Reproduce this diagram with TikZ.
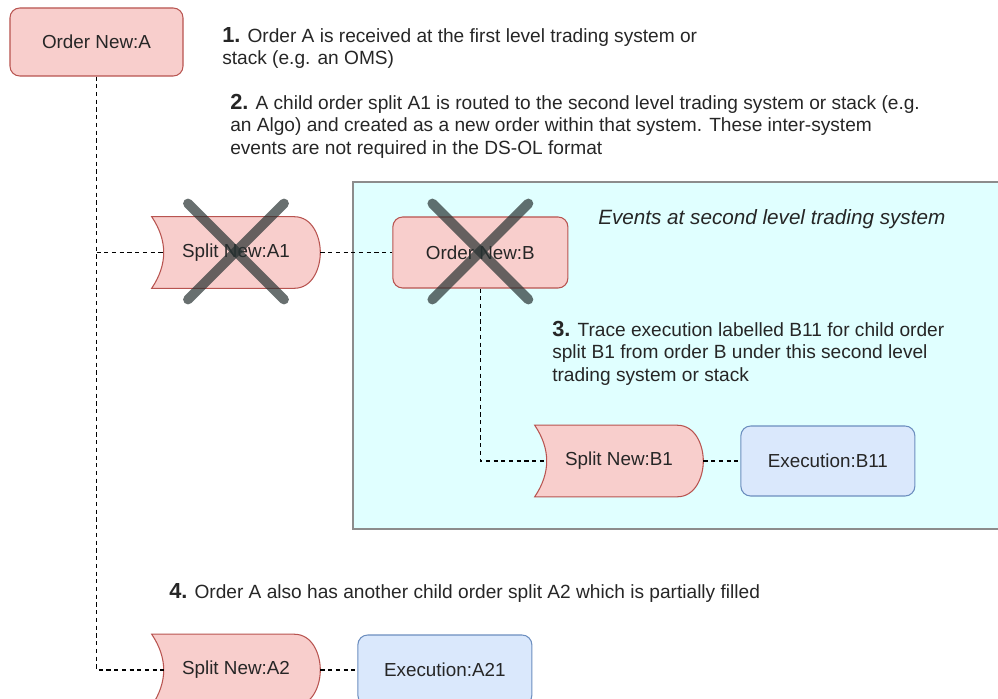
\documentclass[tikz,border=0pt]{standalone}
\usepackage{fontspec}
\setmainfont{Liberation Sans}
\usepackage{tikz}
\usetikzlibrary{
	positioning
}
\definecolor{OrderRed}{HTML}{F8CECC}
\definecolor{OrderEdge}{HTML}{B85450}
\definecolor{ExecBlue}{HTML}{DAE8FC}
\definecolor{ExecEdge}{HTML}{6C8EBF}
\definecolor{StackCyan}{HTML}{E0FFFF}
\definecolor{StackEdge}{HTML}{8C8C8C}
\definecolor{CrossGray}{RGB}{40,50,50}
\pgfdeclarelayer{background}
\pgfsetlayers{background,main}
\newcommand{\notenum}[1]{{\fontsize{15.5}{16}\selectfont\bfseries #1}}

\begin{document}
\begin{tikzpicture}[
				x=0.025cm,
				y=-0.025cm,
				node distance=0.925cm,
				every node/.style={
					font=\fontsize{13.4}{16}\selectfont,
					text=black!85
				},
				orderbox/.style={
					draw=OrderEdge,
					fill=OrderRed,
					line width=0.75pt,
					rounded corners=7pt,
					minimum width=4.325cm,
					minimum height=1.7cm
				},
				execbox/.style={
					draw=ExecEdge,
					fill=ExecBlue,
					line width=0.75pt,
					rounded corners=7pt,
					minimum width=4.35cm,
					minimum height=1.75cm
				},
				splitbox/.style={
					minimum width=4.2cm,
					minimum height=1.775cm
				},
				splitline/.style={
					draw=OrderEdge,
					fill=OrderRed,
					line width=0.75pt
				},
				note/.style={
					align=left,
					inner sep=0pt,
					font=\fontsize{13.6}{16}\selectfont
				},
				link/.style={
					line width=0.75pt,
					dash pattern=on 3pt off 2.5pt
				},
				cross/.style={
					draw=CrossGray,
					draw opacity=0.7,
					line width=7pt,
					line cap=round
				}
				]
				
				\useasboundingbox (0,0) rectangle (998,698);
				
				% second level trading system
				\begin{pgfonlayer}{background}
					\draw[
					StackEdge,
					fill=StackCyan,
					line width=1pt
					] (353,182) rectangle (1010,529);
				\end{pgfonlayer}
				
				\node[orderbox] (OA) at (96.5,42) {Order New:A};
				
				\node[splitbox] (A1) at (236,252.5) {Split New:A1};
				
				\node[
				orderbox,
				minimum width=4.375cm,
				minimum height=1.775cm,
				right=1.8cm of A1
				] (B) {Order New:B};
				
				\node[splitbox] (B1) at (619,461) {Split New:B1};
				
				\node[
				execbox,
				right=of B1
				] (B11) {Execution:B11};
				
				\node[splitbox] (A2) at (236,670) {Split New:A2};
				
				\node[
				execbox,
				right=of A2
				] (A21) {Execution:A21};
				
				% split outlines
				\begin{pgfonlayer}{background}
					\foreach \s in {A1,B1,A2}{
						\draw[splitline] (\s.north west)
						-- ([xshift=-0.65cm]\s.north east)
						.. controls ([xshift=-0.2cm]\s.north east) and ([yshift=0.4cm]\s.east) .. (\s.east)
						.. controls ([yshift=-0.4cm]\s.east) and ([xshift=-0.2cm]\s.south east) .. ([xshift=-0.65cm]\s.south east)
						-- (\s.south west)
						.. controls ([xshift=0.4cm,yshift=-0.3cm]\s.west) and ([xshift=0.4cm,yshift=0.3cm]\s.west) .. (\s.north west)
						-- cycle;
					}
				\end{pgfonlayer}
				
				% notes (anchored at the baseline of the last line)
				\node[
				note,
				anchor=base west
				] (N1) at (222,64.5) {\notenum{1.} Order A is received at the first level trading system or\\stack (e.g. an OMS)};
				
				\node[
				note,
				anchor=base west
				] (N2) at (230,154) {\notenum{2.} A child order split A1 is routed to the second level trading system or stack (e.g.\\an Algo) and created as a new order within that system. These inter-system\\events are not required in the DS-OL format};
				
				\node[
				note,
				anchor=base west
				] (N3) at (552,381) {\notenum{3.} Trace execution labelled B11 for child order\\split B1 from order B under this second level\\trading system or stack};
				
				\node[
				note,
				anchor=base west
				] (N4) at (169,598) {\notenum{4.} Order A also has another child order split A2 which is partially filled};
				
				\node[
				note,
				anchor=base west,
				font=\fontsize{14.7}{17}\selectfont\itshape
				] (T) at (598,224) {Events at second level trading system};
				
				% connectors
				\coordinate (tA1) at (OA.south |- A1.west);
				
				\draw[link] (OA) |- ([xshift=0.3cm]A2.west);
				
				\draw[link] (tA1) -- ([xshift=0.3cm]A1.west);
				
				\draw[link] (A1) -- (B);
				
				\draw[link] (B) |- ([xshift=0.3cm]B1.west);
				
				\draw[link] (B1) -- (B11);
				
				\draw[link] (A2) -- (A21);
				
				% events not needed in the format
				\draw[cross] ([shift={(-48,-49)}]A1.center) -- ([shift={(48,47)}]A1.center);
				\draw[cross] ([shift={(48,-49)}]A1.center) -- ([shift={(-48,47)}]A1.center);
				\draw[cross] ([shift={(-48,-49)}]B.center) -- ([shift={(48,47)}]B.center);
				\draw[cross] ([shift={(48,-49)}]B.center) -- ([shift={(-48,47)}]B.center);
				
			\end{tikzpicture}
\end{document}
